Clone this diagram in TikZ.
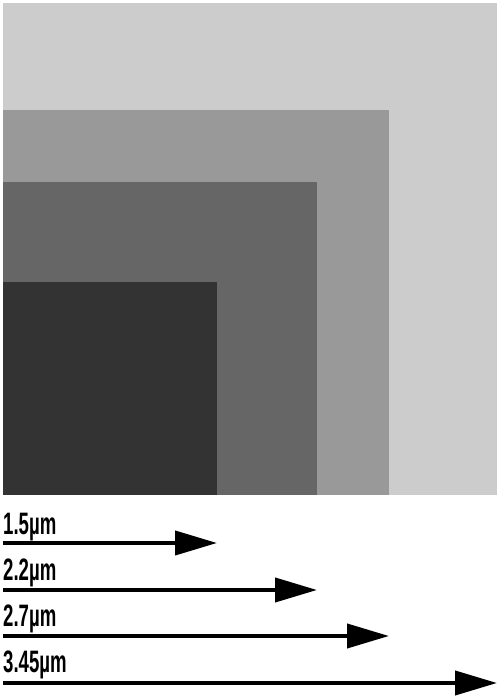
\documentclass[tikz,border=0pt]{standalone}
\usepackage{fontspec}
\setmainfont[FakeStretch=0.6]{Liberation Sans}
\usetikzlibrary{arrows.meta}
\definecolor{pale}{HTML}{CCCCCC}
\definecolor{mid}{HTML}{999999}
\definecolor{deep}{HTML}{666666}
\definecolor{darkest}{HTML}{333333}
\tikzset{
    sq/.style={rectangle, draw=none, inner sep=0pt, outer sep=0pt, anchor=south west},
    arr/.style={-{Triangle[length=42pt, width=24pt]}, line width=4pt, draw=black},
    lbl/.style={anchor=base west, inner sep=0pt, font=\fontsize{31}{31}\selectfont\bfseries}
}
\begin{document}
\begin{tikzpicture}[x=1pt, y=1pt]
\useasboundingbox (0,0) rectangle (500,698);

%% squares, all sharing the lower left corner
\coordinate (o) at (3,203);
\node[sq, fill=pale,    minimum width=494pt, minimum height=492pt] (sq345) at (o) {};
\node[sq, fill=mid,     minimum width=386pt, minimum height=385pt] (sq27)  at (o) {};
\node[sq, fill=deep,    minimum width=314pt, minimum height=313pt] (sq22)  at (o) {};
\node[sq, fill=darkest, minimum width=214pt, minimum height=213pt] (sq15)  at (o) {};

%% scale arrows
\node[lbl] (l15)  at ([yshift=-40pt]o)  {1.5µm};
\draw[arr] ([yshift=-48pt]o) -- ([yshift=-48pt]sq15.south east);

\node[lbl] (l22)  at ([yshift=-86pt]o)  {2.2µm};
\draw[arr] ([yshift=-95pt]o) -- ([yshift=-95pt]sq22.south east);

\node[lbl] (l27)  at ([yshift=-132pt]o) {2.7µm};
\draw[arr] ([yshift=-141pt]o) -- ([yshift=-141pt]sq27.south east);

\node[lbl] (l345) at ([yshift=-178pt]o) {3.45µm};
\draw[arr] ([yshift=-188pt]o) -- ([yshift=-188pt]sq345.south east);

\end{tikzpicture}
\end{document}
